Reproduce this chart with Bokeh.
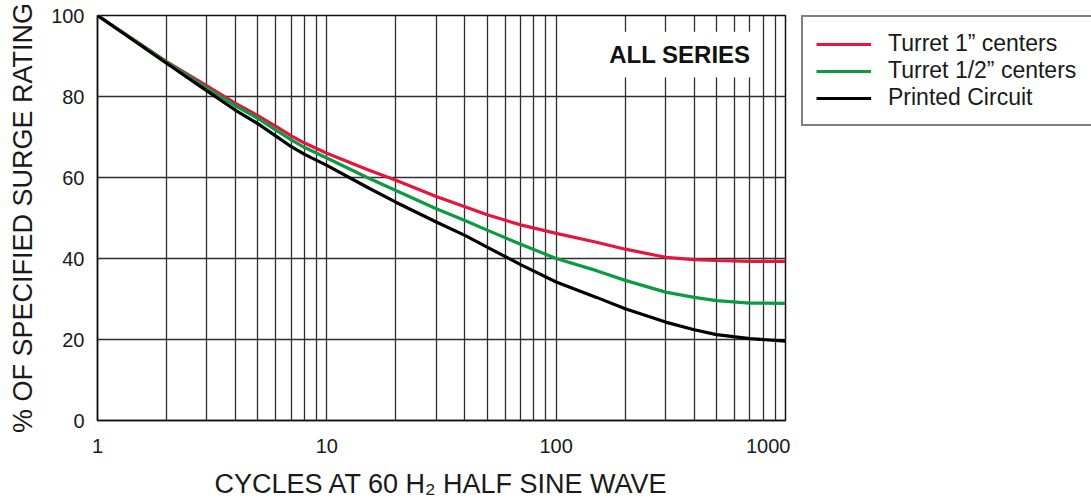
from bokeh.plotting import figure
from bokeh.layouts import row
from bokeh.models import (Range1d, FixedTicker, Legend, LegendItem, Label,
                          BoxAnnotation, BasicTickFormatter)
from bokeh.embed import file_html
from bokeh.resources import INLINE

# ---- data ----
cycles = [1, 2, 3, 4, 5, 6, 7, 8, 10, 15, 20, 30, 40, 50, 70, 100, 150, 200, 300, 400, 500, 700, 1000]
turret_1in = [100, 88.6, 82.6, 78.3, 75.3, 72.6, 70.3, 68.5, 66.0, 62.0, 59.3, 55.3, 52.8, 50.8, 48.3,
              46.2, 44.0, 42.3, 40.3, 39.7, 39.5, 39.3, 39.3]
turret_half = [100, 88.5, 82.0, 77.7, 74.6, 71.7, 69.3, 67.4, 64.8, 60.0, 56.8, 52.3, 49.4, 47.0, 43.5,
               40.0, 37.0, 34.6, 31.7, 30.4, 29.6, 29.0, 28.9]
printed_circuit = [100, 88.2, 81.4, 76.6, 73.3, 70.2, 67.6, 65.7, 63.0, 57.6, 53.9, 49.0, 45.7, 42.8, 38.5,
                   34.2, 30.4, 27.6, 24.3, 22.4, 21.2, 20.2, 19.6]
series_names = ["Turret 1\u201d centers", "Turret 1/2\u201d centers", "Printed Circuit"]
series_colors = ["#e3173e", "#0b9b45", "#000000"]
series_values = [turret_1in, turret_half, printed_circuit]

x_ticks = [1, 10, 100, 1000]
x_tick_labels = ["1", "10", "100", "1000\u2002"]
y_ticks = [0, 20, 40, 60, 80, 100]
x_title = "CYCLES AT 60 H\u2082 HALF SINE WAVE"
y_title = "% OF SPECIFIED SURGE RATING"
annotation_text = "ALL SERIES"

FONT = "Liberation Sans"
GRID = "#2e2e2e"

p = figure(width=800, height=502, x_axis_type="log",
           x_range=Range1d(1, 1000), y_range=Range1d(0, 100),
           output_backend="svg", toolbar_location=None,
           min_border_left=97, min_border_right=15,
           min_border_top=15, min_border_bottom=82)
p.background_fill_color = "white"
p.border_fill_color = "white"

# minor ticks for log grid: 2..9 in each decade
minor = [m * d for d in x_ticks[:-1] for m in range(2, 10)]
p.xaxis.ticker = FixedTicker(ticks=x_ticks, minor_ticks=minor)
p.xaxis.formatter = BasicTickFormatter(use_scientific=False)
p.xaxis.major_label_overrides = {float(t): s for t, s in zip(x_ticks, x_tick_labels)}
p.yaxis.ticker = FixedTicker(ticks=y_ticks)

p.xgrid.grid_line_color = GRID
p.xgrid.grid_line_width = 1.3
p.xgrid.minor_grid_line_color = GRID
p.xgrid.minor_grid_line_width = 1.3
p.ygrid.grid_line_color = GRID
p.ygrid.grid_line_width = 1.3

p.outline_line_color = "#111111"
p.outline_line_width = 1.5

for ax in (p.xaxis, p.yaxis):
    ax.major_tick_in = 0
    ax.major_tick_out = 0
    ax.minor_tick_in = 0
    ax.minor_tick_out = 0
    ax.axis_line_color = "#111111"
    ax.axis_line_width = 1.5
    ax.major_label_text_font = FONT
    ax.major_label_text_font_size = "20px"
    ax.major_label_text_color = "#1a1a1a"
    ax.axis_label_text_font = FONT
    ax.axis_label_text_font_size = "27px"
    ax.axis_label_text_font_style = "normal"
    ax.axis_label_text_color = "#1a1a1a"

p.xaxis.axis_label = x_title
p.yaxis.axis_label = y_title
p.xaxis.major_label_standoff = 14
p.xaxis.axis_label_standoff = 9
p.yaxis.major_label_standoff = 13
p.yaxis.axis_label_standoff = 10

# white box behind the "ALL SERIES" note
p.add_layout(BoxAnnotation(left=104, right=765, bottom=84.7, top=96,
                           fill_color="white", fill_alpha=1.0, line_color=None))
p.add_layout(Label(x=704, y=90.4, text=annotation_text, text_font=FONT,
                   text_font_size="24px", text_font_style="bold",
                   text_align="right", text_baseline="middle", text_color="#111111"))

for ys, c in zip(series_values, series_colors):
    p.line(cycles, ys, line_color=c, line_width=3.2)

# ---- legend panel (separate, axis-less figure to the right) ----
lg = figure(width=291, height=502, output_backend="svg", toolbar_location=None,
            x_axis_location=None, y_axis_location=None,
            x_range=Range1d(1, 1000), y_range=Range1d(0, 100),
            min_border_left=1, min_border_right=0, min_border_top=15, min_border_bottom=0)
lg.outline_line_color = None
lg.grid.visible = False
lg.background_fill_color = "white"
lg.border_fill_color = "white"
lg_renderers = []
for ys, c in zip(series_values, series_colors):
    r = lg.line(cycles, ys, line_color=c, line_width=3.2)
    r.visible = False          # only its legend swatch is shown here
    lg_renderers.append(r)

legend = Legend(items=[LegendItem(label=n, renderers=[r]) for n, r in zip(series_names, lg_renderers)],
                location="top_left")
legend.margin = 0
legend.padding = 13
legend.spacing = 0
legend.glyph_width = 55
legend.glyph_height = 24
legend.label_height = 24
legend.label_width = 191
legend.label_standoff = 17
legend.label_text_font = FONT
legend.label_text_font_size = "23px"
legend.label_text_color = "#1a1a1a"
legend.border_line_color = "#000000"
legend.border_line_width = 2.5
legend.background_fill_color = "white"
legend.background_fill_alpha = 1.0
legend.inactive_fill_alpha = 0.0
lg.add_layout(legend)

layout = row(p, lg, spacing=0)
open("out.html", "w").write(file_html(layout, INLINE))
